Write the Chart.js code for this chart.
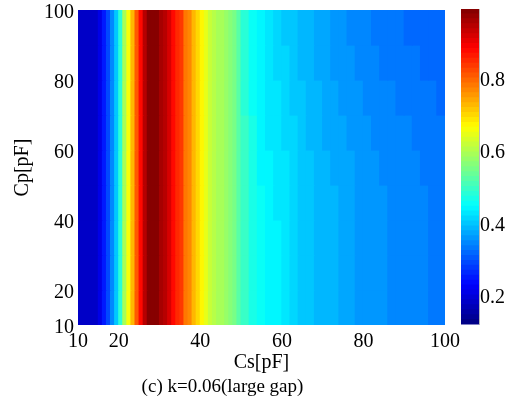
<!DOCTYPE html>
<html>
<head>
<meta charset="utf-8">
<script src="https://cdn.jsdelivr.net/npm/chart.js@4.4.1/dist/chart.umd.min.js"></script>
<style>
  body { margin: 0; background: #fff; }
  #wrap { position: relative; width: 522px; height: 404px; }
  #main { position: absolute; left: 0; top: 0; }
  #cbar { position: absolute; left: 455px; top: 0; }
</style>
</head>
<body>
<div id="wrap">
  <canvas id="main" width="522" height="404"></canvas>
  <canvas id="cbar" width="67" height="404"></canvas>
</div>
<script>
// cell edges of the map (pF)
const csEdges = [10, 11, 12, 13, 14, 15, 16, 17, 18, 19, 20, 21, 22, 23, 24, 25, 26, 27, 28, 29, 30,
                 31, 32, 33, 34, 35, 36, 37, 38, 39, 40, 41, 42, 43, 44, 45, 46, 47, 48, 49, 50,
                 52, 54, 56, 58, 60, 62, 64, 66, 68, 70, 72, 74, 76, 78, 80, 82, 84, 86, 88, 90,
                 92, 94, 96, 98, 100];
const cpEdges = [10, 20, 30, 40, 50, 60, 70, 80, 90, 100];

// Cs 10..50 : same for every Cp (stripes are vertical there)
const leftProfile = [0.18, 0.18, 0.18, 0.18, 0.19, 0.21, 0.25, 0.29, 0.35, 0.41,
                     0.49, 0.59, 0.67, 0.74, 0.81, 0.89, 0.95, 1.0, 1.0, 0.99,
                     0.97, 0.95, 0.93, 0.89, 0.86, 0.84, 0.79, 0.78, 0.74, 0.71,
                     0.68, 0.65, 0.625, 0.615, 0.60, 0.59, 0.58, 0.565, 0.55, 0.53];

// Cs 50..100 (2 pF cells), one row per Cp band, bottom to top
const rightRows = [
  [0.50, 0.475, 0.455, 0.446, 0.44, 0.43, 0.421, 0.412, 0.405, 0.397, 0.391, 0.386, 0.381, 0.376, 0.371, 0.367, 0.363, 0.359, 0.356, 0.354, 0.351, 0.348, 0.345, 0.342, 0.340],
  [0.50, 0.475, 0.455, 0.446, 0.44, 0.43, 0.421, 0.412, 0.405, 0.397, 0.391, 0.386, 0.381, 0.376, 0.371, 0.367, 0.363, 0.359, 0.356, 0.354, 0.351, 0.348, 0.345, 0.342, 0.340],
  [0.50, 0.475, 0.455, 0.446, 0.44, 0.43, 0.421, 0.412, 0.405, 0.397, 0.391, 0.386, 0.381, 0.376, 0.371, 0.367, 0.363, 0.359, 0.356, 0.354, 0.351, 0.348, 0.345, 0.342, 0.340],
  [0.50, 0.474, 0.454, 0.445, 0.439, 0.429, 0.420, 0.411, 0.404, 0.396, 0.390, 0.385, 0.380, 0.375, 0.370, 0.366, 0.362, 0.358, 0.355, 0.353, 0.350, 0.347, 0.344, 0.341, 0.339],
  [0.498, 0.472, 0.452, 0.443, 0.437, 0.427, 0.418, 0.409, 0.402, 0.394, 0.388, 0.383, 0.378, 0.373, 0.368, 0.364, 0.360, 0.356, 0.353, 0.351, 0.348, 0.345, 0.342, 0.339, 0.337],
  [0.496, 0.468, 0.449, 0.439, 0.433, 0.423, 0.414, 0.405, 0.398, 0.390, 0.384, 0.379, 0.374, 0.369, 0.364, 0.360, 0.356, 0.352, 0.349, 0.347, 0.344, 0.341, 0.338, 0.335, 0.333],
  [0.494, 0.465, 0.446, 0.435, 0.429, 0.419, 0.410, 0.401, 0.394, 0.386, 0.380, 0.375, 0.370, 0.365, 0.360, 0.356, 0.352, 0.348, 0.345, 0.343, 0.340, 0.337, 0.334, 0.331, 0.329],
  [0.492, 0.461, 0.441, 0.430, 0.424, 0.414, 0.405, 0.396, 0.389, 0.381, 0.375, 0.370, 0.365, 0.360, 0.355, 0.351, 0.347, 0.343, 0.340, 0.338, 0.335, 0.332, 0.329, 0.326, 0.324],
  [0.490, 0.458, 0.446, 0.432, 0.419, 0.409, 0.402, 0.394, 0.386, 0.379, 0.372, 0.366, 0.360, 0.355, 0.351, 0.347, 0.343, 0.339, 0.335, 0.331, 0.328, 0.326, 0.324, 0.322, 0.320]
];

const xTicks = [10, 20, 40, 60, 80, 100];
const yTicks = [10, 20, 40, 60, 80, 100];
const cbarTicks = [0.2, 0.4, 0.6, 0.8];
const cMin = 0.125, cMax = 1.0, nLevels = 64;

const FONT = 'Liberation Serif, Times New Roman, serif';

// MATLAB style jet colormap, 64 levels
function jet(v) {
  const c = t => Math.round(255 * Math.max(0, Math.min(1, t)));
  const r = c(1.5 - Math.abs(4 * v - 3));
  const g = c(1.5 - Math.abs(4 * v - 2));
  const b = c(1.5 - Math.abs(4 * v - 1));
  return `rgb(${r},${g},${b})`;
}
function levelColor(val) {
  let idx = Math.floor((val - cMin) / (cMax - cMin) * nLevels);
  idx = Math.max(0, Math.min(nLevels - 1, idx));
  return jet((idx + 0.5) / nLevels);
}

// build cells
const cells = [];
const cellColors = [];
for (let r = 0; r < cpEdges.length - 1; r++) {
  const rowVals = leftProfile.concat(rightRows[r]);
  const cp = (cpEdges[r] + cpEdges[r + 1]) / 2;
  for (let j = 0; j < csEdges.length - 1; j++) {
    cells.push({ x: [csEdges[j], csEdges[j + 1]], y: cp });
    cellColors.push(levelColor(rowVals[j]));
  }
}

Chart.defaults.font.family = FONT;
Chart.defaults.color = '#000';

// vertical axes: no extra room for half labels at the ends
const noEndPadding = s => { s.paddingTop = 0; s.paddingBottom = 0; };

new Chart(document.getElementById('main'), {
  type: 'bar',
  data: {
    datasets: [{
      data: cells,
      backgroundColor: cellColors,
      borderWidth: 0,
      barPercentage: 1,
      categoryPercentage: 1,
      inflateAmount: 0.6
    }]
  },
  options: {
    responsive: false,
    animation: false,
    indexAxis: 'y',
    layout: { padding: { top: 10, right: 77, left: 0, bottom: 0 } },
    plugins: {
      legend: { display: false },
      tooltip: { enabled: false },
      title: {
        display: true,
        position: 'bottom',
        text: '(c) k=0.06(large gap)',
        font: { size: 19, weight: 'normal' },
        padding: { top: 0, bottom: 5.6 }
      }
    },
    scales: {
      x: {
        type: 'linear',
        min: 10,
        max: 100,
        offset: false,
        grid: { display: false, drawTicks: false },
        border: { display: false },
        afterBuildTicks: s => { s.ticks = xTicks.map(v => ({ value: v })); },
        afterFit: s => { s.height = 50.6; },
        ticks: { font: { size: 20 }, padding: 5, autoSkip: false, maxRotation: 0 },
        title: { display: true, text: 'Cs[pF]', font: { size: 20 }, padding: { top: 0, bottom: 1 } }
      },
      y: {
        type: 'linear',
        min: 10,
        max: 100,
        offset: false,
        grid: { display: false, drawTicks: false, offset: false },
        border: { display: false },
        afterBuildTicks: s => { s.ticks = yTicks.map(v => ({ value: v })); },
        afterFit: s => { s.width = 78; noEndPadding(s); },
        ticks: { font: { size: 20 }, padding: 4, autoSkip: false, labelOffset: 3 },
        title: { display: true, text: 'Cp[pF]', font: { size: 20 }, padding: { top: 11, bottom: 0 } }
      }
    }
  }
});

// colour bar
const cbarSets = [];
for (let i = 0; i < nLevels; i++) {
  const lo = cMin + (cMax - cMin) * i / nLevels;
  const hi = cMin + (cMax - cMin) * (i + 1) / nLevels;
  cbarSets.push({
    data: [[lo, hi]],
    backgroundColor: jet((i + 0.5) / nLevels),
    borderWidth: 0,
    barPercentage: 1,
    categoryPercentage: 1,
    inflateAmount: 0.5,
    grouped: false
  });
}

new Chart(document.getElementById('cbar'), {
  type: 'bar',
  data: { labels: [''], datasets: cbarSets },
  options: {
    responsive: false,
    animation: false,
    layout: { padding: { left: 6, top: 9, bottom: 79.5, right: 0 } },
    plugins: { legend: { display: false }, tooltip: { enabled: false } },
    scales: {
      x: { display: false },
      y: {
        position: 'right',
        min: cMin,
        max: cMax,
        grid: { display: false, drawTicks: false },
        border: { display: true, color: '#b8b8b8' },
        afterBuildTicks: s => { s.ticks = cbarTicks.map(v => ({ value: v })); },
        afterFit: s => { s.width = 43; noEndPadding(s); },
        ticks: { font: { size: 20 }, padding: 1, callback: v => v.toFixed(1) }
      }
    }
  }
});
</script>
</body>
</html>
